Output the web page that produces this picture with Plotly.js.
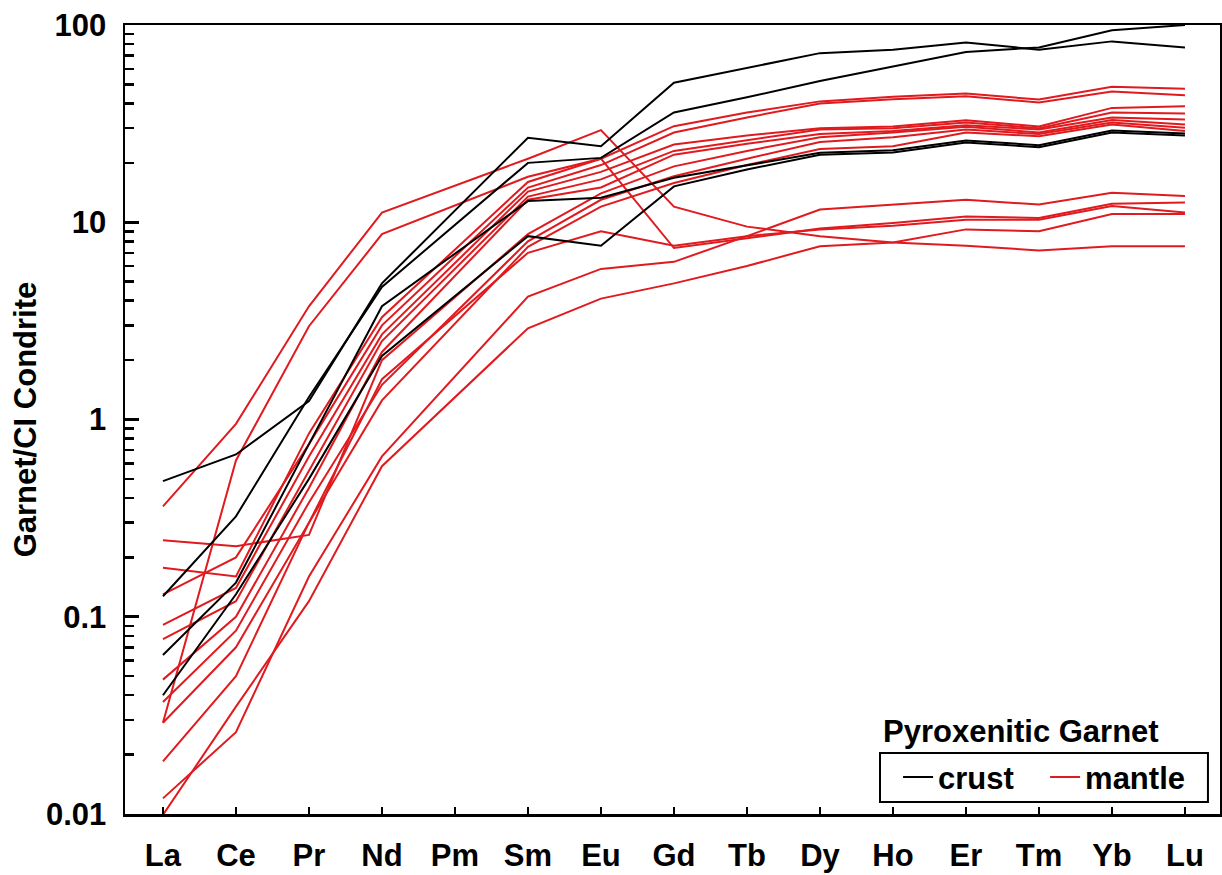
<!DOCTYPE html>
<html>
<head>
<meta charset="utf-8">
<script src="https://cdn.plot.ly/plotly-3.0.1.min.js"></script>
<style>
  html, body { margin: 0; padding: 0; background: #ffffff; }
  #chart { width: 1222px; height: 875px; }
</style>
</head>
<body>
<div id="chart"></div>
<script>
// REE categories (Pm not measured -> null)
const elements = ["La","Ce","Pr","Nd","Pm","Sm","Eu","Gd","Tb","Dy","Ho","Er","Tm","Yb","Lu"];

// y-axis tick labels
const yTickVals = [0.01, 0.1, 1, 10, 100];
const yTickText = ["0.01", "0.1", "1", "10", "100"];

// Crust-derived pyroxenitic garnets (chondrite normalised)
const crust1 = [0.487, 0.665, 1.24, 4.9, null, 26.8, 24.3, 51, 60.5, 72, 75, 81.5, 75, 82.6, 77];
const crust2 = [0.127, 0.323, 1.3, 4.7, null, 20.0, 21.2, 36, 43, 52, 61.5, 73, 77, 94, 100];
const crust3 = [0.064, 0.149, 0.75, 3.75, null, 12.8, 13.3, 16.8, 19.5, 22.5, 23.2, 26, 24.6, 29.2, 28.2];
const crust4 = [0.040, 0.13, 0.5, 2.1, null, 8.5, 7.6, 15.2, 18.5, 22.0, 22.6, 25.4, 24.0, 28.5, 27.5];

// Mantle-derived pyroxenitic garnets (chondrite normalised)
const mantle1  = [0.363, 0.95, 3.75, 11.2, null, 21, 29.3, 12, 9.5, 8.5, 7.9, 7.6, 7.2, 7.56, 7.56];
const mantle2  = [0.029, 0.62, 2.97, 8.7, null, 17, 21, 7.4, 8.3, 9.3, 9.9, 10.7, 10.5, 12.4, 12.6];
const mantle3  = [0.177, 0.16, 0.85, 3.3, null, 16, 21, 30.7, 36, 41, 43.3, 44.9, 41.9, 48.6, 47.5];
const mantle4  = [0.13, 0.2, 0.75, 3.0, null, 15, 19.5, 28.5, 34, 40, 42, 43.5, 40.5, 46, 44.1];
const mantle5  = [0.091, 0.14, 0.65, 2.7, null, 14.3, 18, 24.8, 27.5, 30, 30.6, 32.9, 30.6, 38, 38.7];
const mantle6  = [0.077, 0.12, 0.55, 2.5, null, 13.5, 16.5, 23, 26, 29.5, 30, 32, 30, 36, 35.6];
const mantle7  = [0.048, 0.1, 0.45, 2.2, null, 13, 15, 22, 25, 28, 29, 31, 29.5, 34, 33.2];
const mantle8  = [0.244, 0.228, 0.26, 2.0, null, 8.7, 14, 19.2, 23, 27, 28.5, 30.5, 28.5, 33, 31.3];
const mantle9  = [0.037, 0.085, 0.38, 1.5, null, 8, 13, 17.1, 21, 25.5, 27, 29.5, 28, 32, 30.1];
const mantle10 = [0.029, 0.07, 0.3, 1.25, null, 7.5, 12, 15.8, 19.5, 23.5, 24.3, 28.5, 27.3, 31.3, 29];
const mantle11 = [0.0185, 0.05, 0.3, 1.6, null, 7.0, 9.0, 7.6, 8.5, 9.2, 9.6, 10.3, 10.3, 12.1, 11.2];
const mantle12 = [0.012, 0.026, 0.16, 0.65, null, 4.2, 5.8, 6.3, 8.5, 11.6, 12.3, 13.0, 12.3, 14.1, 13.6];
const mantle13 = [0.0099, 0.035, 0.12, 0.58, null, 2.9, 4.1, 4.9, 6.0, 7.56, 7.9, 9.2, 9.0, 11.0, 11.0];

const crustSeries = [crust1, crust2, crust3, crust4];
const mantleSeries = [mantle1, mantle2, mantle3, mantle4, mantle5, mantle6, mantle7,
                      mantle8, mantle9, mantle10, mantle11, mantle12, mantle13];

const RED = "#e01a1e";
const BLACK = "#000000";
const FONT = "Liberation Sans, Arial, sans-serif";

// minor log ticks (2..9 in every decade)
const minorTickVals = [];
[0.01, 0.1, 1, 10].forEach(d => { for (let k = 2; k <= 9; k++) minorTickVals.push(+(k * d).toPrecision(3)); });

const traces = [];
mantleSeries.forEach((s, i) => {
  traces.push({
    x: elements, y: s, type: "scatter", mode: "lines",
    connectgaps: true,
    line: { color: RED, width: 2 },
    name: "mantle", legendgroup: "mantle", legendrank: 2,
    showlegend: i === 0, hoverinfo: "skip"
  });
});
crustSeries.forEach((s, i) => {
  traces.push({
    x: elements, y: s, type: "scatter", mode: "lines",
    connectgaps: true,
    line: { color: BLACK, width: 2 },
    name: "crust", legendgroup: "crust", legendrank: 1,
    showlegend: i === 0, hoverinfo: "skip"
  });
});

const layout = {
  width: 1222, height: 875,
  margin: { l: 125, r: 2, t: 25, b: 61 },
  paper_bgcolor: "#ffffff", plot_bgcolor: "#ffffff",
  font: { family: FONT, color: "#000000" },
  showlegend: true,
  xaxis: {
    type: "category",
    categoryorder: "array", categoryarray: elements,
    range: [-0.52, 14.48],
    showline: true, linecolor: "#000000", linewidth: 2.5, mirror: true,
    ticks: "inside", ticklen: 7, tickwidth: 2.5, tickcolor: "#000000",
    showgrid: false, zeroline: false,
    tickfont: { family: FONT, size: 31, weight: "bold", color: "#000000" },
    ticklabelstandoff: 12,
    fixedrange: true
  },
  yaxis: {
    type: "log",
    range: [-2, 2],
    tickmode: "array", tickvals: yTickVals, ticktext: yTickText,
    showline: true, linecolor: "#000000", linewidth: 2.5, mirror: true,
    ticks: "inside", ticklen: 14, tickwidth: 3, tickcolor: "#000000",
    minor: { tickmode: "array", tickvals: minorTickVals, ticks: "inside", ticklen: 9, tickwidth: 2.5, tickcolor: "#000000", showgrid: false },
    showgrid: false, zeroline: false,
    tickfont: { family: FONT, size: 31, weight: "bold", color: "#000000" },
    ticklabelstandoff: 10,
    title: { text: "Garnet/CI Condrite", font: { family: FONT, size: 31, weight: "bold", color: "#000000" }, standoff: 0 },
    fixedrange: true
  },
  legend: {
    orientation: "h",
    x: 0.706, xanchor: "left",
    y: 0.0463, yanchor: "middle",
    bgcolor: "rgba(0,0,0,0)",
    borderwidth: 0,
    font: { family: FONT, size: 31, weight: "bold", color: "#000000" },
    itemwidth: 30,
    entrywidth: 102,
    tracegroupgap: 0
  },
  shapes: [{
    type: "rect", xref: "paper", yref: "paper",
    x0: 0.6895, x1: 0.989, y0: 0.0152, y1: 0.0773,
    line: { color: "#000000", width: 2 }, fillcolor: "rgba(0,0,0,0)", layer: "above"
  }],
  annotations: [{
    xref: "paper", yref: "paper",
    x: 0.690, y: 0.104, xanchor: "left", yanchor: "middle",
    text: "Pyroxenitic Garnet", showarrow: false,
    font: { family: FONT, size: 31, weight: "bold", color: "#000000" }
  }]
};

Plotly.newPlot("chart", traces, layout, { displayModeBar: false, staticPlot: true });
</script>
</body>
</html>
